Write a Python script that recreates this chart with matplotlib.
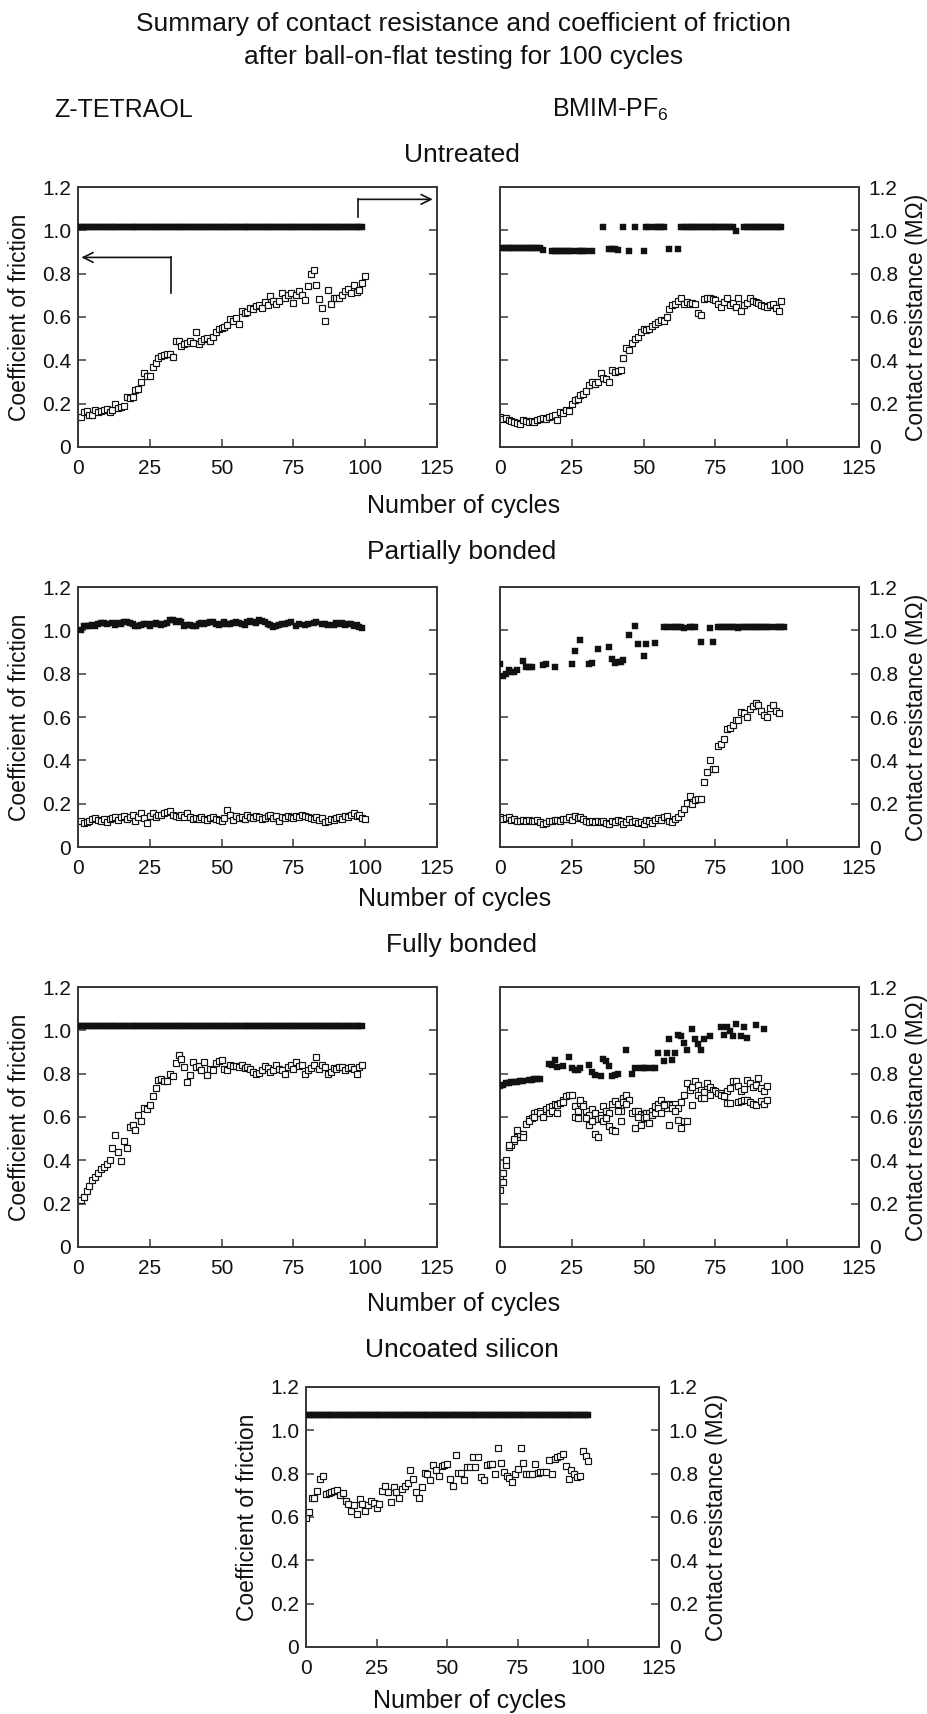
import matplotlib
matplotlib.use("Agg")
import matplotlib.pyplot as plt
import numpy as np
from matplotlib.ticker import FuncFormatter

plt.rcParams["font.family"] = ["Liberation Sans", "DejaVu Sans"]
plt.rcParams["mathtext.fontset"] = "custom"
plt.rcParams["mathtext.rm"] = "Liberation Sans"
plt.rcParams["mathtext.it"] = "Liberation Sans:italic"

nan = np.nan

# ---- Untreated / Z-TETRAOL ------------------------------------------------
cof_untreated_z_start = 1
cof_untreated_z = [
    0.14, 0.16, 0.165, 0.15, 0.15, 0.17, 0.16, 0.165, 0.17, 0.175,
    0.16, 0.17, 0.20, 0.18, 0.185, 0.19, 0.23, 0.225, 0.23, 0.265,
    0.27, 0.30, 0.34, 0.33, 0.33, 0.37, 0.39, 0.41, 0.42, 0.425,
    0.43, 0.43, 0.415, 0.49, 0.49, 0.465, 0.475, 0.48, 0.49, 0.48,
    0.53, 0.475, 0.49, 0.50, 0.505, 0.49, 0.51, 0.53, 0.545, 0.55,
    0.555, 0.565, 0.59, 0.58, 0.595, 0.57, 0.63, 0.62, 0.625, 0.64,
    0.635, 0.65, 0.655, 0.64, 0.67, 0.655, 0.695, 0.675, 0.66, 0.675,
    0.71, 0.69, 0.70, 0.71, 0.665, 0.70, 0.72, 0.70, 0.68, 0.745,
    0.80, 0.815, 0.75, 0.685, 0.64, 0.58, 0.725, 0.66, 0.69, 0.69,
    0.69, 0.70, 0.72, 0.73, 0.71, 0.75, 0.715, 0.725, 0.755, 0.79,
]
res_untreated_z_start = 0
res_untreated_z = [
    1.015, 1.015, 1.015, 1.015, 1.015, 1.015, 1.015, 1.015, 1.015, 1.015,
    1.015, 1.015, 1.015, 1.015, 1.015, 1.015, 1.015, 1.015, 1.015, 1.015,
    1.015, 1.015, 1.015, 1.015, 1.015, 1.015, 1.015, 1.015, 1.015, 1.015,
    1.015, 1.015, 1.015, 1.015, 1.015, 1.015, 1.015, 1.015, 1.015, 1.015,
    1.015, 1.015, 1.015, 1.015, 1.015, 1.015, 1.015, 1.015, 1.015, 1.015,
    1.015, 1.015, 1.015, 1.015, 1.015, 1.015, 1.015, 1.015, 1.015, 1.015,
    1.015, 1.015, 1.015, 1.015, 1.015, 1.015, 1.015, 1.015, 1.015, 1.015,
    1.015, 1.015, 1.015, 1.015, 1.015, 1.015, 1.015, 1.015, 1.015, 1.015,
    1.015, 1.015, 1.015, 1.015, 1.015, 1.015, 1.015, 1.015, 1.015, 1.015,
    1.015, 1.015, 1.015, 1.015, 1.015, 1.015, 1.015, 1.015, 1.015, 1.015,
]

# ---- Untreated / BMIM-PF6 -------------------------------------------------
cof_untreated_b_start = 0
cof_untreated_b = [
    0.14, 0.13, 0.135, 0.125, 0.12, 0.115, 0.11, 0.105, 0.125, 0.12,
    0.115, 0.12, 0.115, 0.125, 0.13, 0.135, 0.13, 0.14, 0.145, 0.15,
    0.125, 0.16, 0.155, 0.17, 0.165, 0.20, 0.215, 0.22, 0.24, 0.245,
    0.26, 0.285, 0.30, 0.29, 0.30, 0.34, 0.32, 0.315, 0.30, 0.355,
    0.345, 0.35, 0.355, 0.41, 0.455, 0.45, 0.48, 0.50, 0.51, 0.53,
    0.545, 0.54, 0.545, 0.56, 0.57, 0.575, 0.585, 0.58, 0.60, 0.635,
    0.655, 0.66, 0.675, 0.69, 0.66, 0.67, 0.66, 0.665, 0.66, 0.62,
    0.61, 0.685, 0.69, 0.69, 0.685, 0.68, 0.66, 0.645, 0.67, 0.69,
    0.655, 0.665, 0.645, 0.69, 0.63, 0.655, 0.665, 0.69, 0.675, 0.67,
    0.665, 0.655, 0.65, 0.645, 0.655, 0.66, 0.64, 0.63, 0.675,
]
res_untreated_b_start = 0
res_untreated_b = [
    0.92, 0.92, 0.92, 0.92, 0.92, 0.92, 0.92, 0.92, 0.92, 0.92,
    0.92, 0.92, 0.92, 0.92, 0.92, 0.91, nan, nan, 0.905, 0.905,
    0.905, 0.905, 0.905, 0.905, 0.905, 0.905, nan, 0.905, 0.905, 0.905,
    0.905, nan, 0.905, nan, nan, nan, 1.015, nan, 0.915, 0.915,
    0.915, 0.91, nan, 1.015, nan, 0.905, nan, 1.015, nan, nan,
    0.905, 1.015, 1.015, nan, 1.015, 1.015, 1.015, 1.015, nan, 0.915,
    nan, nan, 0.915, 1.015, 1.015, 1.015, 1.015, 1.015, 1.015, 1.015,
    1.015, 1.015, 1.015, 1.015, 1.015, 1.015, 1.015, 1.015, 1.015, 1.015,
    1.015, 1.015, 0.995, nan, nan, 1.015, 1.015, 1.015, 1.015, 1.015,
    1.015, 1.015, 1.015, 1.015, 1.015, 1.015, 1.015, 1.015, 1.015,
]

# ---- Partially bonded / Z-TETRAOL -----------------------------------------
cof_partial_z_start = 1
cof_partial_z = [
    0.12, 0.11, 0.115, 0.12, 0.13, 0.135, 0.125, 0.12, 0.13, 0.115,
    0.13, 0.135, 0.14, 0.125, 0.14, 0.145, 0.13, 0.14, 0.15, 0.12,
    0.14, 0.155, 0.135, 0.11, 0.145, 0.155, 0.14, 0.15, 0.15, 0.155,
    0.16, 0.165, 0.15, 0.145, 0.14, 0.15, 0.14, 0.155, 0.14, 0.13,
    0.135, 0.13, 0.14, 0.13, 0.125, 0.135, 0.14, 0.13, 0.125, 0.12,
    0.135, 0.17, 0.15, 0.125, 0.145, 0.135, 0.14, 0.13, 0.15, 0.14,
    0.135, 0.145, 0.14, 0.13, 0.135, 0.145, 0.15, 0.135, 0.145, 0.12,
    0.14, 0.135, 0.145, 0.14, 0.135, 0.145, 0.14, 0.15, 0.145, 0.14,
    0.135, 0.13, 0.14, 0.125, 0.135, 0.115, 0.12, 0.13, 0.125, 0.135,
    0.14, 0.13, 0.145, 0.14, 0.15, 0.155, 0.145, 0.15, 0.135, 0.13,
]
res_partial_z_start = 1
res_partial_z = [
    1.00, 1.02, 1.02, 1.02, 1.025, 1.02, 1.03, 1.035, 1.035, 1.03,
    nan, 1.035, 1.025, 1.035, 1.03, 1.04, 1.04, 1.035, 1.03, 1.02,
    1.02, 1.025, 1.03, 1.03, 1.02, 1.03, 1.035, 1.03, 1.025, 1.03,
    1.035, 1.05, 1.05, 1.04, 1.045, 1.04, 1.02, 1.025, 1.025, 1.02,
    1.02, 1.03, 1.035, 1.03, 1.035, 1.04, 1.04, 1.03, 1.025, 1.03,
    1.04, 1.03, 1.03, 1.035, 1.04, 1.035, 1.03, 1.025, 1.04, 1.045,
    1.04, 1.035, 1.05, 1.045, 1.04, 1.03, 1.025, 1.015, 1.02, 1.025,
    1.03, 1.03, 1.035, 1.04, nan, 1.02, 1.03, nan, 1.025, 1.03,
    nan, 1.035, 1.04, nan, 1.03, 1.03, 1.025, nan, 1.025, 1.035,
    1.03, 1.035, 1.025, 1.03, 1.03, 1.02, 1.025, 1.015, 1.01,
]

# ---- Partially bonded / BMIM-PF6 ------------------------------------------
cof_partial_b_start = 0
cof_partial_b = [
    0.14, 0.13, 0.135, 0.14, 0.125, 0.13, 0.12, 0.12, 0.125, 0.12,
    0.125, 0.12, 0.12, 0.125, 0.115, 0.105, 0.11, 0.12, 0.12, 0.125,
    0.125, 0.12, 0.13, 0.13, 0.14, 0.125, 0.145, 0.135, 0.14, 0.13,
    0.12, 0.115, 0.12, 0.115, 0.12, 0.115, 0.12, 0.11, 0.105, 0.12,
    0.115, 0.125, 0.12, 0.105, 0.115, 0.13, 0.115, 0.12, 0.11, 0.115,
    0.105, 0.125, 0.12, 0.11, 0.125, 0.135, 0.125, 0.14, 0.145, 0.12,
    0.115, 0.13, 0.14, 0.155, 0.175, 0.205, 0.235, 0.20, 0.215, 0.22,
    0.22, 0.30, 0.345, 0.40, 0.36, 0.36, 0.465, 0.475, 0.50, 0.545,
    0.55, 0.565, 0.585, 0.585, 0.625, 0.62, 0.60, 0.635, 0.65, 0.665,
    0.655, 0.63, 0.61, 0.60, 0.64, 0.655, 0.63, 0.62,
]
res_partial_b_start = 0
res_partial_b = [
    0.845, 0.79, 0.80, 0.815, 0.81, 0.81, 0.815, nan, 0.86, 0.83,
    0.83, 0.83, nan, nan, nan, 0.84, 0.845, nan, nan, 0.83,
    nan, nan, nan, nan, nan, 0.845, 0.905, nan, 0.955, nan,
    nan, 0.845, 0.85, nan, 0.915, nan, nan, nan, 0.925, 0.87,
    0.85, 0.855, 0.855, 0.865, nan, 0.98, nan, 1.02, 0.935, nan,
    0.88, 0.935, nan, nan, 0.94, nan, nan, 1.015, 1.015, nan,
    1.015, 1.015, 1.015, 1.015, 1.01, nan, 1.015, 1.015, 1.015, nan,
    0.945, nan, nan, 1.01, 0.945, nan, 1.015, 1.015, 1.015, 1.015,
    1.015, 1.015, 1.015, 1.01, 1.015, 1.015, 1.015, 1.015, 1.015, 1.015,
    1.015, 1.015, 1.015, 1.015, 1.015, nan, 1.015, 1.015, 1.015, 1.015,
]

# ---- Fully bonded / Z-TETRAOL ---------------------------------------------
cof_full_z_start = 1
cof_full_z = [
    0.216, 0.23, 0.26, 0.28, 0.31, 0.325, 0.34, 0.36, 0.37, 0.385,
    0.40, 0.455, 0.515, 0.44, 0.395, 0.49, 0.455, 0.555, 0.565, 0.54,
    0.61, 0.58, 0.64, 0.635, 0.655, 0.695, 0.735, 0.77, 0.775, 0.765,
    0.765, 0.80, 0.79, 0.85, 0.885, 0.87, 0.83, 0.76, 0.795, 0.855,
    0.83, 0.835, 0.815, 0.855, 0.795, 0.82, 0.815, 0.85, 0.86, 0.865,
    0.82, 0.815, 0.84, 0.835, 0.835, 0.83, 0.84, 0.825, 0.83, 0.82,
    0.81, 0.80, 0.805, 0.815, 0.835, 0.825, 0.81, 0.815, 0.84, 0.82,
    0.815, 0.80, 0.83, 0.84, 0.82, 0.855, 0.835, 0.84, 0.80, 0.815,
    0.825, 0.84, 0.875, 0.82, 0.84, 0.83, 0.80, 0.81, 0.825, 0.82,
    0.83, 0.83, 0.815, 0.825, 0.83, 0.82, 0.80, 0.83, 0.84,
]
res_full_z_start = 0
res_full_z = [
    1.02, 1.02, 1.02, 1.02, 1.02, 1.02, 1.02, 1.02, 1.02, 1.02,
    1.02, 1.02, 1.02, 1.02, 1.02, 1.02, 1.02, 1.02, 1.02, 1.02,
    1.02, 1.02, 1.02, 1.02, 1.02, 1.02, 1.02, 1.02, 1.02, 1.02,
    1.02, 1.02, 1.02, 1.02, 1.02, 1.02, 1.02, 1.02, 1.02, 1.02,
    1.02, 1.02, 1.02, 1.02, 1.02, 1.02, 1.02, 1.02, 1.02, 1.02,
    1.02, 1.02, 1.02, 1.02, 1.02, 1.02, 1.02, 1.02, 1.02, 1.02,
    1.02, 1.02, 1.02, 1.02, 1.02, 1.02, 1.02, 1.02, 1.02, 1.02,
    1.02, 1.02, 1.02, 1.02, 1.02, 1.02, 1.02, 1.02, 1.02, 1.02,
    1.02, 1.02, 1.02, 1.02, 1.02, 1.02, 1.02, 1.02, 1.02, 1.02,
    1.02, 1.02, 1.02, 1.02, 1.02, 1.02, 1.02, 1.02, 1.02, 1.02,
]

# ---- Fully bonded / BMIM-PF6 (two overlapping friction traces) ------------
cof_full_b_upper_start = 0
cof_full_b_upper = [
    0.265, 0.30, 0.38, 0.46, 0.47, 0.49, 0.51, 0.52, 0.52, 0.57,
    0.59, 0.595, 0.62, 0.625, 0.63, 0.61, 0.635, 0.645, 0.65, 0.66,
    0.655, 0.665, 0.68, 0.695, 0.70, 0.70, 0.65, 0.63, 0.665, 0.66,
    0.63, 0.61, 0.635, 0.62, 0.59, 0.61, 0.65, 0.63, 0.62, 0.66,
    0.672, 0.66, 0.63, 0.69, 0.70, 0.68, 0.62, 0.63, 0.626, 0.615,
    0.61, 0.62, 0.62, 0.63, 0.65, 0.66, 0.68, 0.66, 0.64, 0.66,
    0.657, 0.66, 0.64, 0.67, 0.70, 0.757, 0.726, 0.74, 0.765, 0.75,
    0.726, 0.715, 0.757, 0.74, 0.726, 0.72, 0.71, 0.71, 0.70, 0.72,
    0.735, 0.765, 0.765, 0.742, 0.72, 0.73, 0.772, 0.757, 0.74, 0.75,
    0.78, 0.735, 0.72, 0.745,
]
cof_full_b_lower_start = 0
cof_full_b_lower = [
    0.33, 0.34, 0.40, 0.47, nan, 0.50, 0.54, nan, 0.51, nan,
    0.58, nan, 0.60, nan, 0.62, 0.60, nan, 0.62, 0.63, nan,
    0.62, nan, 0.67, nan, nan, nan, 0.60, 0.595, 0.68, 0.65,
    0.595, 0.565, 0.58, 0.52, 0.51, 0.595, 0.58, 0.595, 0.557, 0.54,
    0.534, 0.626, 0.58, 0.67, 0.66, nan, nan, 0.55, 0.60, 0.565,
    0.595, 0.60, 0.572, 0.61, 0.62, 0.64, 0.62, 0.657, nan, 0.565,
    0.64, 0.626, 0.588, 0.55, 0.58, 0.58, nan, 0.657, nan, 0.70,
    0.69, 0.688, nan, 0.70, nan, nan, nan, 0.70, 0.695, 0.665,
    0.665, nan, nan, 0.67, 0.672, 0.68, 0.68, 0.67, 0.66, 0.657,
    nan, 0.672, 0.66, 0.68,
]
res_full_b_start = 0
res_full_b = [
    0.745, 0.75, 0.755, 0.755, 0.76, 0.76, 0.76, 0.765, 0.765, nan,
    0.77, 0.77, 0.775, 0.775, 0.775, nan, nan, 0.845, 0.84, 0.865,
    0.83, nan, 0.835, nan, 0.875, 0.825, 0.815, 0.815, 0.825, nan,
    nan, 0.84, 0.81, 0.795, nan, 0.79, 0.87, 0.86, 0.835, 0.79,
    0.795, 0.80, nan, nan, 0.91, nan, 0.80, 0.825, nan, 0.825,
    0.825, 0.825, nan, 0.825, 0.825, 0.895, nan, 0.86, 0.895, 0.96,
    0.865, 0.895, 0.98, 0.975, 0.94, 0.91, nan, 1.005, 0.96, 0.935,
    0.91, 0.96, nan, 0.975, nan, nan, nan, 1.015, 0.98, 1.015,
    0.995, 0.975, 1.03, nan, 0.975, 1.015, 0.965, nan, nan, 1.025,
    nan, nan, 1.005,
]

# ---- Uncoated silicon -----------------------------------------------------
cof_uncoated_start = 0
cof_uncoated = [
    0.595, 0.625, 0.69, 0.69, 0.72, 0.775, 0.79, 0.705, 0.71, 0.715,
    0.72, 0.725, 0.70, 0.71, 0.675, 0.66, 0.63, 0.655, 0.615, 0.685,
    0.66, 0.63, 0.655, 0.675, 0.665, 0.64, 0.66, 0.72, 0.745, 0.715,
    0.67, 0.74, 0.715, 0.69, 0.73, 0.745, 0.755, 0.815, 0.775, 0.715,
    0.69, 0.74, 0.805, 0.80, 0.77, 0.84, 0.815, 0.79, 0.835, 0.84,
    0.845, 0.775, 0.745, 0.885, 0.805, 0.805, 0.77, 0.83, 0.83, 0.875,
    0.83, 0.875, 0.785, 0.77, 0.84, 0.845, 0.845, 0.80, 0.92, 0.85,
    0.81, 0.79, 0.78, 0.76, 0.80, 0.82, 0.92, 0.85, 0.80, 0.80,
    0.80, 0.845, 0.805, 0.81, 0.81, 0.81, 0.865, 0.80, 0.87, 0.875,
    0.88, 0.89, 0.835, 0.775, 0.815, 0.80, 0.785, 0.79, 0.905, 0.88,
    0.86,
]
res_uncoated_start = 0
res_uncoated = [
    1.07, 1.07, 1.07, 1.07, 1.07, 1.07, 1.07, 1.07, 1.07, 1.07,
    1.07, 1.07, 1.07, 1.07, 1.07, 1.07, 1.07, 1.07, 1.07, 1.07,
    1.07, 1.07, 1.07, 1.07, 1.07, 1.07, 1.07, 1.07, 1.07, 1.07,
    1.07, 1.07, 1.07, 1.07, 1.07, 1.07, 1.07, 1.07, 1.07, 1.07,
    1.07, 1.07, 1.07, 1.07, 1.07, 1.07, 1.07, 1.07, 1.07, 1.07,
    1.07, 1.07, 1.07, 1.07, 1.07, 1.07, 1.07, 1.07, 1.07, 1.07,
    1.07, 1.07, 1.07, 1.07, 1.07, 1.07, 1.07, 1.07, 1.07, 1.07,
    1.07, 1.07, 1.07, 1.07, 1.07, 1.07, 1.07, 1.07, 1.07, 1.07,
    1.07, 1.07, 1.07, 1.07, 1.07, 1.07, 1.07, 1.07, 1.07, 1.07,
    1.07, 1.07, 1.07, 1.07, 1.07, 1.07, 1.07, 1.07, 1.07, 1.07,
    1.07,
]

X_TICKS = [0, 25, 50, 75, 100, 125]
Y_TICKS = [0, 0.2, 0.4, 0.6, 0.8, 1.0, 1.2]

INK = "#111111"
SPINE = "#3a3a3a"
W, H = 927, 1714

fig = plt.figure(figsize=(W / 100, H / 100), dpi=100)
fig.patch.set_facecolor("white")


def px_rect(left, top, right, bottom):
    return [left / W, 1 - bottom / H, (right - left) / W, (bottom - top) / H]


def ftext(x, y, s, size, **kw):
    fig.text(x / W, 1 - y / H, s, ha="center", va="center", fontsize=size, color=INK, **kw)


def fmt_y(v, _):
    return "0" if abs(v) < 1e-9 else f"{v:.1f}"


def draw_panel(box, cof_series, res_series, left_labels, right_labels):
    left, top, right, bottom = box
    width = right - left
    ax = fig.add_axes(px_rect(*box))
    ax2 = ax.twinx()
    for start, values in cof_series:
        ax.plot(np.arange(len(values)) + start, values, ls="none", marker="s", ms=4.3,
                mfc="white", mec=INK, mew=0.85, zorder=3)
    start, values = res_series
    ax2.plot(np.arange(len(values)) + start, values, ls="none", marker="s", ms=4.8,
             mfc=INK, mec=INK, mew=0.3, zorder=3)
    for a in (ax, ax2):
        a.set_xlim(0, 125)
        a.set_ylim(0, 1.2)
        a.set_yticks(Y_TICKS)
        a.yaxis.set_major_formatter(FuncFormatter(fmt_y))
        for sp in a.spines.values():
            sp.set_color(SPINE)
            sp.set_linewidth(1.4)
    ax.set_xticks(X_TICKS)
    ax.tick_params(axis="both", direction="in", length=6, width=1.1, color=SPINE,
                   labelsize=15, labelcolor=INK)
    ax.tick_params(axis="x", pad=8.5)
    ax.tick_params(axis="y", pad=5, labelleft=left_labels)
    ax2.tick_params(axis="y", direction="in", length=6, width=1.1, color=SPINE,
                    labelsize=15, labelcolor=INK, pad=7, labelright=right_labels)
    if left_labels:
        ax.set_ylabel("Coefficient of friction", fontsize=16.5, color=INK, va="center")
        ax.yaxis.set_label_coords(-58 / width, 0.5)
    if right_labels:
        ax2.set_ylabel("Contact resistance (M\u03a9)", fontsize=16.5, color=INK, va="center",
                       rotation=90)
        ax2.yaxis.set_label_coords(1 + 58 / width, 0.5)
    return ax


LEFT_COL = (78, 437)
RIGHT_COL = (500, 859)
ROWS = [(187, 447), (587, 847), (987, 1247)]

ax_ut_z = draw_panel((LEFT_COL[0], ROWS[0][0], LEFT_COL[1], ROWS[0][1]),
                     [(cof_untreated_z_start, cof_untreated_z)],
                     (res_untreated_z_start, res_untreated_z), True, False)
draw_panel((RIGHT_COL[0], ROWS[0][0], RIGHT_COL[1], ROWS[0][1]),
           [(cof_untreated_b_start, cof_untreated_b)],
           (res_untreated_b_start, res_untreated_b), False, True)
draw_panel((LEFT_COL[0], ROWS[1][0], LEFT_COL[1], ROWS[1][1]),
           [(cof_partial_z_start, cof_partial_z)],
           (res_partial_z_start, res_partial_z), True, False)
draw_panel((RIGHT_COL[0], ROWS[1][0], RIGHT_COL[1], ROWS[1][1]),
           [(cof_partial_b_start, cof_partial_b)],
           (res_partial_b_start, res_partial_b), False, True)
draw_panel((LEFT_COL[0], ROWS[2][0], LEFT_COL[1], ROWS[2][1]),
           [(cof_full_z_start, cof_full_z)],
           (res_full_z_start, res_full_z), True, False)
draw_panel((RIGHT_COL[0], ROWS[2][0], RIGHT_COL[1], ROWS[2][1]),
           [(cof_full_b_upper_start, cof_full_b_upper), (cof_full_b_lower_start, cof_full_b_lower)],
           (res_full_b_start, res_full_b), False, True)
draw_panel((306, 1387, 659, 1647),
           [(cof_uncoated_start, cof_uncoated)],
           (res_uncoated_start, res_uncoated), True, True)

# axis-pointer arrows in the first panel
arrow_style = dict(arrowstyle="->,head_length=0.7,head_width=0.35", color=INK, lw=1.2,
                   shrinkA=0, shrinkB=0)
ax_ut_z.plot([32.4, 32.4], [0.71, 0.875], color=INK, lw=1.2, zorder=4)
ax_ut_z.annotate("", xy=(1.2, 0.875), xytext=(32.4, 0.875), arrowprops=arrow_style, zorder=4)
ax_ut_z.plot([97.5, 97.5], [1.06, 1.143], color=INK, lw=1.2, zorder=4)
ax_ut_z.annotate("", xy=(123.5, 1.143), xytext=(97.5, 1.143), arrowprops=arrow_style, zorder=4)

ftext(464, 24, "Summary of contact resistance and coefficient of friction", 19)
ftext(464, 57, "after ball-on-flat testing for 100 cycles", 19)
ftext(124, 110, "Z-TETRAOL", 18)
ftext(610, 110, "BMIM-PF$_6$", 18)
ftext(462, 155, "Untreated", 19)
ftext(464, 506, "Number of cycles", 18)
ftext(462, 552, "Partially bonded", 19)
ftext(455, 899, "Number of cycles", 18)
ftext(462, 945, "Fully bonded", 19)
ftext(464, 1304, "Number of cycles", 18)
ftext(462, 1350, "Uncoated silicon", 19)
ftext(470, 1701, "Number of cycles", 18)

fig.savefig("out.png", dpi=100, facecolor="white")
